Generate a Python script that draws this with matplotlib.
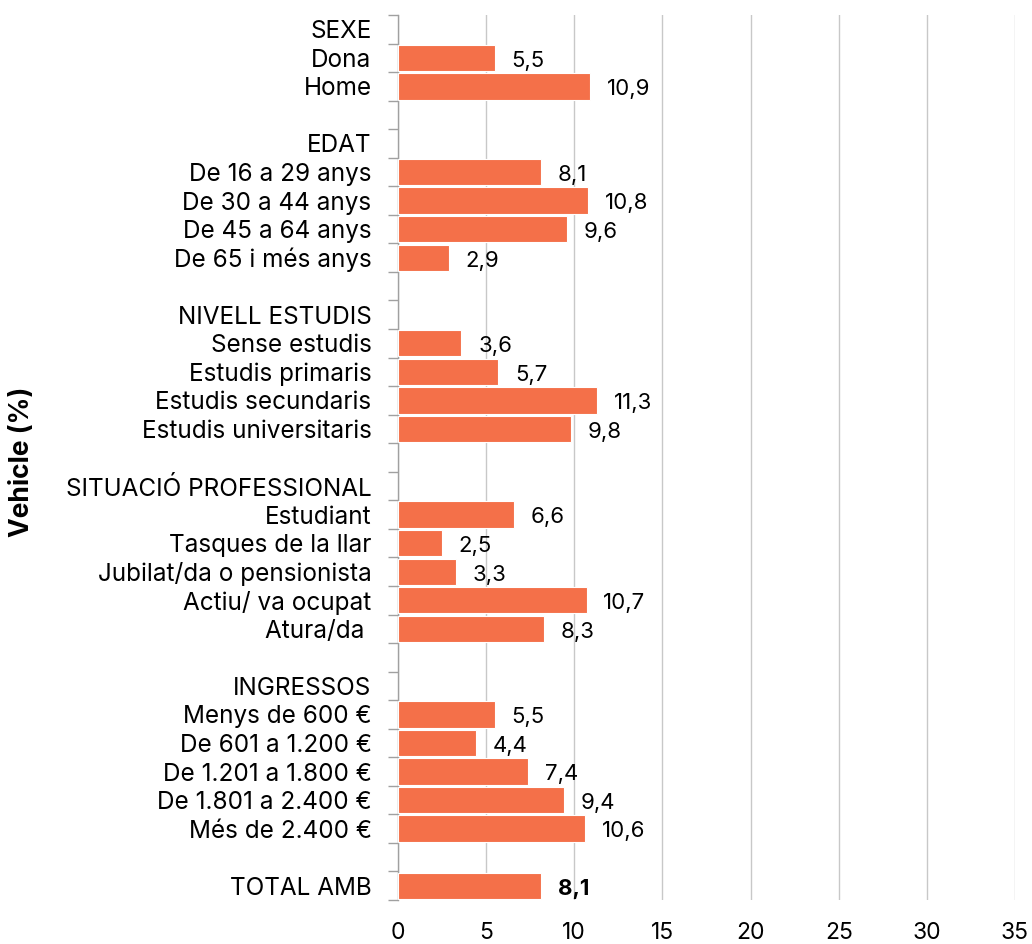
import numpy as np
import matplotlib
matplotlib.use("Agg")
import matplotlib.pyplot as plt

# rows from top to bottom; None = header or blank row (no bar)
labels = [
    "SEXE", "Dona", "Home", "",
    "EDAT", "De 16 a 29 anys", "De 30 a 44 anys", "De 45 a 64 anys", "De 65 i més anys", "",
    "NIVELL ESTUDIS", "Sense estudis", "Estudis primaris", "Estudis secundaris", "Estudis universitaris", "",
    "SITUACIÓ PROFESSIONAL", "Estudiant", "Tasques de la llar", "Jubilat/da o pensionista",
    "Actiu/ va ocupat", "Atura/da ", "",
    "INGRESSOS", "Menys de 600 €", "De 601 a 1.200 €", "De 1.201 a 1.800 €", "De 1.801 a 2.400 €",
    "Més de 2.400 €", "",
    "TOTAL AMB",
]
values = [
    None, 5.5, 10.9, None,
    None, 8.1, 10.8, 9.6, 2.9, None,
    None, 3.6, 5.7, 11.3, 9.8, None,
    None, 6.6, 2.5, 3.3, 10.7, 8.3, None,
    None, 5.5, 4.4, 7.4, 9.4, 10.6, None,
    8.1,
]
xticks = [0, 5, 10, 15, 20, 25, 30, 35]

bar_color = "#F47049"
plt.rcParams["font.family"] = ["Inter", "DejaVu Sans"]

fig = plt.figure(figsize=(10.32, 9.44), dpi=100)
ax = fig.add_axes([398 / 1032, 44 / 944, 617 / 1032, 885 / 944])

n = len(labels)
ys = np.arange(n)
for y, v in zip(ys, values):
    if v is None:
        continue
    ax.barh(y, v, height=0.92, color=bar_color, edgecolor="white", linewidth=0.8, zorder=3)
    bold = labels[y] == "TOTAL AMB"
    ax.text(v + 0.95, y + 0.1, f"{v:.1f}".replace(".", ","), va="center", ha="left",
            fontsize=16, fontweight="bold" if bold else "normal", color="black")

ax.set_ylim(n - 0.5, -0.5)
ax.set_xlim(0, 35)
ax.set_yticks(ys)
ax.set_yticklabels(labels, fontsize=17.5)
ax.set_yticks(np.arange(-0.5, n, 1), minor=True)
ax.tick_params(axis="y", which="major", length=0, pad=19)
ax.tick_params(axis="y", which="minor", length=7, color="#a0a0a0", width=1)

ax.set_xticks(xticks)
ax.set_xticklabels([str(t) for t in xticks], fontsize=16.5)
ax.tick_params(axis="x", length=0, pad=16)
ax.xaxis.grid(True, color="#c8c8c8", linewidth=1, zorder=0)

for s in ["top", "right", "bottom"]:
    ax.spines[s].set_visible(False)
ax.spines["left"].set_color("#a0a0a0")
ax.spines["left"].set_linewidth(1)

fig.text(22 / 1032, 1 - 462 / 944, "Vehicle (%)", rotation=90, va="center", ha="center",
         fontsize=19, fontweight="bold")

fig.savefig("out.png", dpi=100)
